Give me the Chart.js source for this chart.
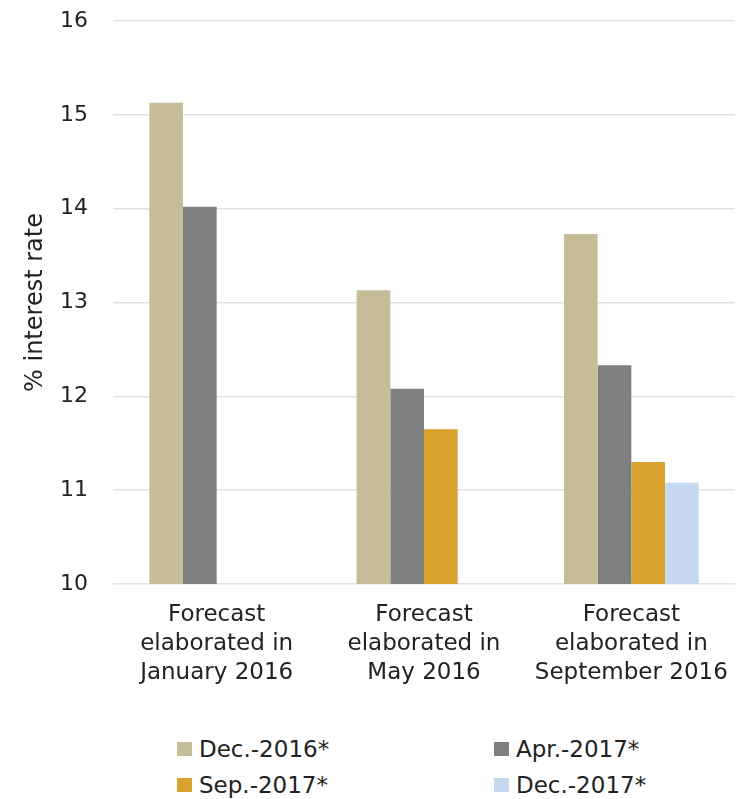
<!DOCTYPE html>
<html>
<head>
<meta charset="utf-8">
<script src="https://cdn.jsdelivr.net/npm/chart.js@4/dist/chart.umd.min.js"></script>
<style>
  html, body { margin: 0; padding: 0; background: #fff; }
  #wrap { position: relative; width: 743px; height: 799px; }
  #chart { position: absolute; left: 0; top: 0; }
  #legend { position: absolute; left: 0; top: 735px; width: 743px; font-family: "DejaVu Sans", sans-serif; font-size: 23px; color: #222; }
  .item { position: absolute; display: flex; align-items: center; white-space: nowrap; line-height: 28px; }
  .box { width: 15px; height: 14px; margin-right: 7px; }
</style>
</head>
<body>
<div id="wrap">
  <canvas id="chart" width="743" height="720"></canvas>
  <div id="legend"></div>
</div>
<script>
// Forecast rounds (x axis) and the horizon each forecast targets (series)
const categories = [
  ["Forecast", "elaborated in", "January 2016"],
  ["Forecast", "elaborated in", "May 2016"],
  ["Forecast", "elaborated in", "September 2016"]
];
const seriesNames = ["Dec.-2016*", "Apr.-2017*", "Sep.-2017*", "Dec.-2017*"];
const dec2016 = [15.13, 13.13, 13.73];
const apr2017 = [14.02, 12.08, 12.33];
const sep2017 = [null, 11.65, 11.30];
const dec2017 = [null, null, 11.08];
const yTicks = [10, 11, 12, 13, 14, 15, 16];
const seriesColors = ["#c5bd98", "#7f7f7f", "#d9a12e", "#c6d8ef"];

const fontFamily = '"DejaVu Sans", sans-serif';
const textColor = "#222";
const values = [dec2016, apr2017, sep2017, dec2017];

const chart = new Chart(document.getElementById("chart"), {
  type: "bar",
  data: {
    labels: categories,
    datasets: seriesNames.map((name, i) => ({
      label: name,
      data: values[i],
      backgroundColor: seriesColors[i],
      borderWidth: 0,
      categoryPercentage: 0.65,
      barPercentage: 1.0
    }))
  },
  options: {
    responsive: false,
    animation: false,
    layout: { padding: { top: 21, right: 8, left: 0, bottom: 0 } },
    plugins: { legend: { display: false }, tooltip: { enabled: false } },
    scales: {
      x: {
        grid: { display: false, drawTicks: false },
        border: { display: false },
        ticks: {
          color: textColor,
          font: { family: fontFamily, size: 23, lineHeight: 1.26 },
          padding: 17,
          maxRotation: 0,
          autoSkip: false
        },
        afterFit: (scale) => {
          scale.height = 720 - 584;
          scale.paddingLeft = 0;
          scale.paddingRight = 0;
        }
      },
      y: {
        min: 10,
        max: 16,
        afterBuildTicks: (scale) => { scale.ticks = yTicks.map(v => ({ value: v })); },
        grid: { color: "#e1e1e1", lineWidth: 1.5, drawTicks: false },
        border: { display: false },
        ticks: {
          color: textColor,
          font: { family: fontFamily, size: 22 },
          padding: 25
        },
        title: {
          display: true,
          text: "% interest rate",
          color: textColor,
          font: { family: fontFamily, size: 24 },
          padding: { top: 21, bottom: 0 }
        },
        afterFit: (scale) => {
          scale.width = 113;
          scale.paddingTop = 0;
          scale.paddingBottom = 0;
        }
      }
    }
  }
});

// Two-column legend below the chart
const legend = document.getElementById("legend");
const spots = [[177, 0], [494, 0], [177, 36], [494, 36]];
seriesNames.forEach((name, i) => {
  const item = document.createElement("div");
  item.className = "item";
  item.style.left = spots[i][0] + "px";
  item.style.top = spots[i][1] + "px";
  const box = document.createElement("span");
  box.className = "box";
  box.style.background = seriesColors[i];
  const txt = document.createElement("span");
  txt.textContent = name;
  item.appendChild(box);
  item.appendChild(txt);
  legend.appendChild(item);
});
</script>
</body>
</html>
